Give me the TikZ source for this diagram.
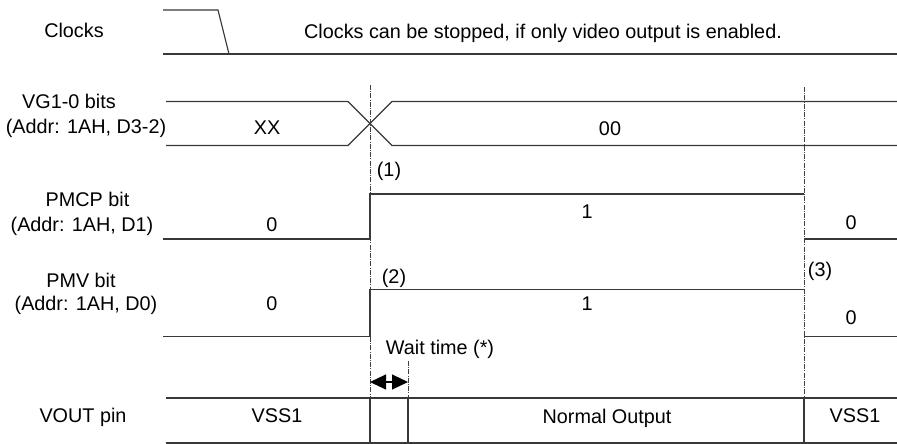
\documentclass[tikz,border=0pt]{standalone}
\usepackage{fontspec}
\setmainfont{Liberation Sans}
\usetikzlibrary{arrows.meta}
\begin{document}
\begin{tikzpicture}[x=1pt,y=-1pt,
  sig/.style={line width=1.1pt,draw=black!78},
  guide/.style={line width=0.8pt,draw=black!75,dash pattern=on 5pt off 1.2pt on 1pt off 1.2pt},
  lbl/.style={font=\fontsize{19.8}{22}\selectfont,anchor=base,inner sep=0pt},
  dbl/.style={line width=1.1pt,{Triangle[length=16pt,width=15pt]}-{Triangle[length=16pt,width=15pt]}}]
\useasboundingbox (0,0) rectangle (897,444);
% guide coordinates
\coordinate (g1t) at (370,85);
\coordinate (g1b) at (370,398);
\coordinate (g2t) at (804,87);
\coordinate (g2b) at (804,398);
\coordinate (wt) at (408,361);
\coordinate (wb) at (408,398);
\coordinate (wl) at (370,382);
\coordinate (wr) at (408,382);
% Clocks
\draw[sig] (163,10) -- (218,10) -- (229,54);
\draw[sig] (163,54) -- (897,54);
% VG1-0
\draw[sig] (166,101.5) -- (348,101.5) -- (392,145.5) -- (897,145.5);
\draw[sig] (166,145.5) -- (348,145.5) -- (392,101.5) -- (897,101.5);
% PMCP
\draw[sig] (163,239) -- (370,239) -- (370,194) -- (804,194);
\draw[sig] (804,239) -- (897,239);
% PMV
\draw[sig] (163,336.5) -- (370,336.5) -- (370,289.5) -- (804,289.5);
\draw[sig] (804,336.5) -- (897,336.5);
% VOUT
\draw[sig] (166,398) -- (897,398);
\draw[sig] (166,443) -- (897,443);
\draw[sig] (370,398) -- (370,443);
\draw[sig] (408,398) -- (408,443);
\draw[sig] (804,398) -- (804,443);
% guides
\draw[guide] (g1t) -- (g1b);
\draw[guide] (g2t) -- (g2b);
\draw[guide] (wt) -- (wb);
\draw[dbl] (wl) -- (wr);
% texts
\node[lbl] (tclk) at (74,38) {Clocks};
\node[lbl] (tclknote) at (543,39) {Clocks can be stopped, if only video output is enabled.};
\node[lbl] (tvg) at (69,108) {VG1-0 bits};
\node[lbl] (tvga) at (86,133.5) {(Addr: 1AH, D3-2)};
\node[lbl] (txx) at (267,134) {XX};
\node[lbl] (t00) at (610,135) {00};
\node[lbl] (t1) at (389,176) {(1)};
\node[lbl] (tpmcp) at (87.5,206.5) {PMCP bit};
\node[lbl] (tpmcpa) at (82,231) {(Addr: 1AH, D1)};
\node[lbl] (tpmcp0) at (272,231) {0};
\node[lbl] (tpmcp1) at (587,218) {1};
\node[lbl] (tpmcp0r) at (851,229) {0};
\node[lbl] (t2) at (394,283) {(2)};
\node[lbl] (t3) at (820,276) {(3)};
\node[lbl] (tpmv) at (81,287) {PMV bit};
\node[lbl] (tpmva) at (86,310) {(Addr: 1AH, D0)};
\node[lbl] (tpmv0) at (272,310) {0};
\node[lbl] (tpmv1) at (587,310) {1};
\node[lbl] (tpmv0r) at (851,324) {0};
\node[lbl] (twait) at (440,354) {Wait time (*)};
\node[lbl] (tvout) at (83,422) {VOUT pin};
\node[lbl] (tvss) at (277,422) {VSS1};
\node[lbl] (tnorm) at (607,423) {Normal Output};
\node[lbl] (tvssr) at (855,422) {VSS1};
\end{tikzpicture}
\end{document}
